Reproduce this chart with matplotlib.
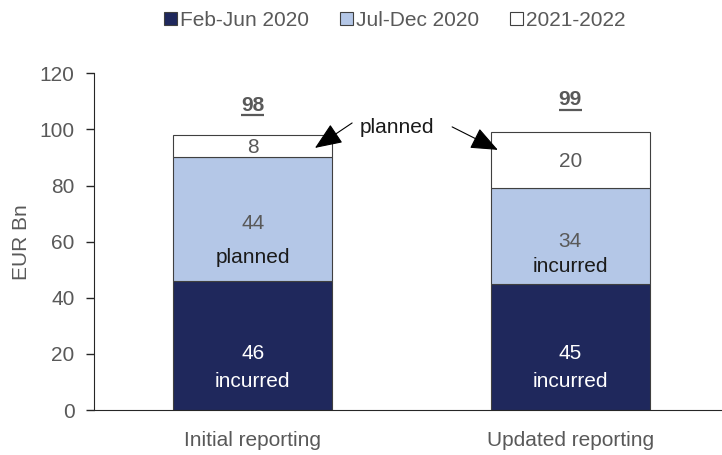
import matplotlib
matplotlib.use("Agg")
import matplotlib.pyplot as plt

plt.rcParams['font.family'] = ['Liberation Sans', 'DejaVu Sans']

categories = ["Initial reporting", "Updated reporting"]
series_names = ["Feb-Jun 2020", "Jul-Dec 2020", "2021-2022"]
feb_jun = [46, 45]
jul_dec = [44, 34]
y2021_22 = [8, 20]
totals = [98, 99]
feb_jun_notes = ["incurred", "incurred"]
jul_dec_notes = ["planned", "incurred"]
yticks = [0, 20, 40, 60, 80, 100, 120]

colors = ["#1F285C", "#B4C7E7", "#FFFFFF"]
gray = "#595959"
fs = 15

fig = plt.figure(figsize=(7.22, 4.55), dpi=100)
ax = fig.add_axes([94/722, 45/455, 628/722, 336.7/455])

x = list(range(len(categories)))
w = 0.5
b1 = ax.bar(x, feb_jun, w, color=colors[0], edgecolor="#404040", linewidth=0.8, label=series_names[0])
b2 = ax.bar(x, jul_dec, w, bottom=feb_jun, color=colors[1], edgecolor="#404040", linewidth=0.8, label=series_names[1])
bot3 = [a + b for a, b in zip(feb_jun, jul_dec)]
b3 = ax.bar(x, y2021_22, w, bottom=bot3, color=colors[2], edgecolor="#404040", linewidth=0.8, label=series_names[2])

ax.set_xlim(-0.5, 1.478)
ax.set_ylim(0, 120)
ax.set_yticks(yticks)
ax.set_xticks(x)
ax.set_xticklabels(categories)
ax.tick_params(axis='y', colors="#262626", labelsize=fs, length=6, width=1, labelcolor=gray, pad=8)
ax.tick_params(axis='x', length=0, labelsize=fs, labelcolor=gray, pad=15)
for s in ["top", "right"]:
    ax.spines[s].set_visible(False)
ax.spines["left"].set_color("#262626")
ax.spines["bottom"].set_color("#262626")
ax.set_ylabel("EUR Bn", color=gray, fontsize=fs, labelpad=6)

# Labels in segments
for i in x:
    ax.text(i, 20.0, f"{feb_jun[i]}", ha="center", va="center", color="white", fontsize=fs)
    ax.text(i, 10.2, feb_jun_notes[i], ha="center", va="center", color="white", fontsize=fs)

# Jul-Dec labels
ax.text(0, 66.6, f"{jul_dec[0]}", ha="center", va="center", color=gray, fontsize=fs)
ax.text(0, 54.5, jul_dec_notes[0], ha="center", va="center", color="#1a1a1a", fontsize=fs)
ax.text(1, 60.0, f"{jul_dec[1]}", ha="center", va="center", color=gray, fontsize=fs)
ax.text(1, 51.0, jul_dec_notes[1], ha="center", va="center", color="#1a1a1a", fontsize=fs)

# 2021-2022 labels
for i in x:
    ax.text(i, bot3[i] + y2021_22[i] / 2 - 0.5, f"{y2021_22[i]}", ha="center", va="center", color=gray, fontsize=fs)

# Totals
for i in x:
    off = 1.2 if i == 1 else 0
    ax.text(i, totals[i] + 10.6 + off, f"{totals[i]}", ha="center", va="center",
            color=gray, fontsize=fs, fontweight="bold")
    ax.plot([i - 0.036, i + 0.036], [totals[i] + 7.0 + off - (0.3 if i == 1 else 0)] * 2,
            color=gray, lw=1.6, solid_capstyle="butt")

# Annotation "planned" with arrows
ax.text(0.454, 100.8, "planned", ha="center", va="center", color="#1a1a1a", fontsize=fs)
arrow = dict(arrowstyle="-|>,head_length=0.85,head_width=0.35", color="black", lw=0.8, mutation_scale=20,
             shrinkA=0, shrinkB=0)
ax.annotate("", xy=(0.196, 93.4), xytext=(0.313, 102.3), arrowprops=arrow)
ax.annotate("", xy=(0.772, 92.7), xytext=(0.628, 100.9), arrowprops=arrow)

leg = fig.legend(handles=[b1, b2, b3], labels=series_names, loc="center", bbox_to_anchor=(0.547, 0.955),
                 ncol=3, frameon=False, fontsize=fs, handlelength=0.6, handleheight=0.6,
                 handletextpad=0.15, columnspacing=1.5, labelcolor=gray)

fig.savefig("out.png", dpi=100)
